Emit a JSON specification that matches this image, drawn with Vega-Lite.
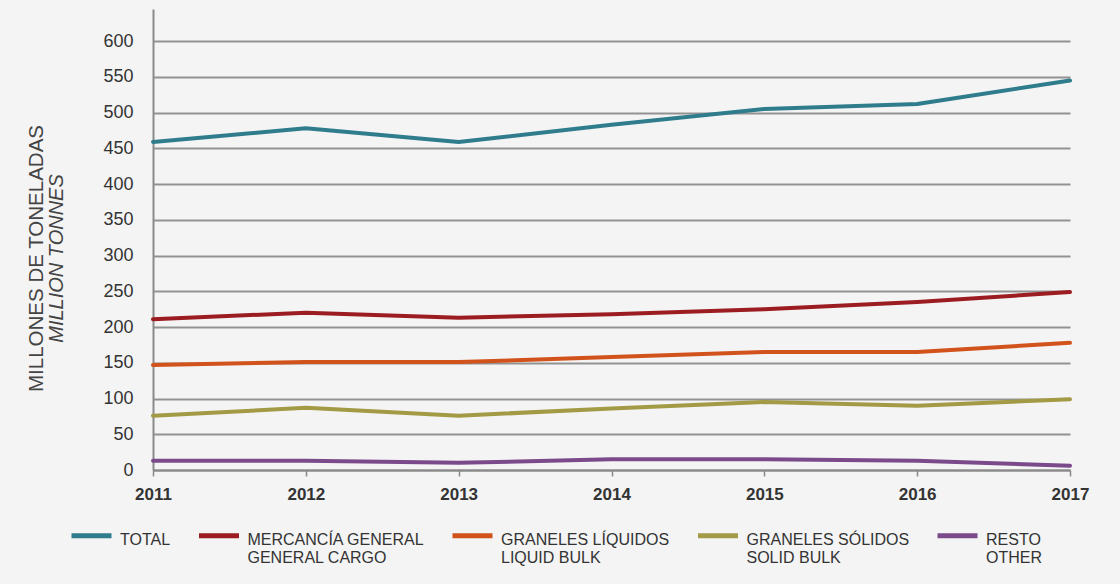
{
  "$schema": "https://vega.github.io/schema/vega-lite/v6.json",
  "width": 917,
  "height": 461,
  "autosize": {"type": "none"},
  "padding": {"left": 153, "top": 9, "right": 50, "bottom": 114},
  "background": "#f4f4f4",
  "config": {"view": {"stroke": null}, "font": "Liberation Sans"},
  "title": {
    "text": "MILLONES DE TONELADAS",
    "subtitle": "MILLION TONNES",
    "orient": "left",
    "anchor": "middle",
    "font": "Liberation Sans",
    "fontSize": 20.5,
    "fontWeight": "normal",
    "color": "#444444",
    "subtitleFont": "Liberation Sans",
    "subtitleFontSize": 20,
    "subtitleFontStyle": "italic",
    "subtitleColor": "#444444",
    "subtitlePadding": 0,
    "offset": 2,
    "dx": -19
  },
  "data": {
    "values": [
      {"year": 2011, "serie": "TOTAL", "value": 459},
      {"year": 2012, "serie": "TOTAL", "value": 478},
      {"year": 2013, "serie": "TOTAL", "value": 459},
      {"year": 2014, "serie": "TOTAL", "value": 483},
      {"year": 2015, "serie": "TOTAL", "value": 505},
      {"year": 2016, "serie": "TOTAL", "value": 512},
      {"year": 2017, "serie": "TOTAL", "value": 545},
      {"year": 2011, "serie": "MERCANCÍA GENERAL", "value": 211},
      {"year": 2012, "serie": "MERCANCÍA GENERAL", "value": 220},
      {"year": 2013, "serie": "MERCANCÍA GENERAL", "value": 213},
      {"year": 2014, "serie": "MERCANCÍA GENERAL", "value": 218},
      {"year": 2015, "serie": "MERCANCÍA GENERAL", "value": 225},
      {"year": 2016, "serie": "MERCANCÍA GENERAL", "value": 235},
      {"year": 2017, "serie": "MERCANCÍA GENERAL", "value": 249},
      {"year": 2011, "serie": "GRANELES LÍQUIDOS", "value": 147},
      {"year": 2012, "serie": "GRANELES LÍQUIDOS", "value": 151},
      {"year": 2013, "serie": "GRANELES LÍQUIDOS", "value": 151},
      {"year": 2014, "serie": "GRANELES LÍQUIDOS", "value": 158},
      {"year": 2015, "serie": "GRANELES LÍQUIDOS", "value": 165},
      {"year": 2016, "serie": "GRANELES LÍQUIDOS", "value": 165},
      {"year": 2017, "serie": "GRANELES LÍQUIDOS", "value": 178},
      {"year": 2011, "serie": "GRANELES SÓLIDOS", "value": 76},
      {"year": 2012, "serie": "GRANELES SÓLIDOS", "value": 87},
      {"year": 2013, "serie": "GRANELES SÓLIDOS", "value": 76},
      {"year": 2014, "serie": "GRANELES SÓLIDOS", "value": 86},
      {"year": 2015, "serie": "GRANELES SÓLIDOS", "value": 95},
      {"year": 2016, "serie": "GRANELES SÓLIDOS", "value": 90},
      {"year": 2017, "serie": "GRANELES SÓLIDOS", "value": 99},
      {"year": 2011, "serie": "RESTO", "value": 13},
      {"year": 2012, "serie": "RESTO", "value": 13},
      {"year": 2013, "serie": "RESTO", "value": 10},
      {"year": 2014, "serie": "RESTO", "value": 15},
      {"year": 2015, "serie": "RESTO", "value": 15},
      {"year": 2016, "serie": "RESTO", "value": 13},
      {"year": 2017, "serie": "RESTO", "value": 6}
    ]
  },
  "mark": {"type": "line", "strokeWidth": 4, "strokeCap": "round", "strokeJoin": "round"},
  "encoding": {
    "x": {
      "field": "year",
      "type": "quantitative",
      "scale": {"domain": [2011, 2017], "nice": false, "zero": false},
      "axis": {
        "values": [2011, 2012, 2013, 2014, 2015, 2016, 2017],
        "format": "d",
        "title": null,
        "grid": false,
        "labelFont": "Liberation Sans",
        "labelFontSize": 17,
        "labelFontWeight": "bold",
        "labelColor": "#333333",
        "labelPadding": 10,
        "labelFlush": false,
        "tickSize": 6,
        "tickColor": "#8a8a8a",
        "tickWidth": 1.5,
        "domainColor": "#8a8a8a",
        "domainWidth": 2
      }
    },
    "y": {
      "field": "value",
      "type": "quantitative",
      "scale": {"domain": [0, 645], "nice": false},
      "axis": {
        "values": [0, 50, 100, 150, 200, 250, 300, 350, 400, 450, 500, 550, 600],
        "title": null,
        "grid": true,
        "gridColor": "#929292",
        "gridWidth": 2,
        "ticks": false,
        "tickSize": 0,
        "labelPadding": 20,
        "labelFont": "Liberation Sans",
        "labelFontSize": 18,
        "labelColor": "#333333",
        "domainColor": "#8a8a8a",
        "domainWidth": 2
      }
    },
    "color": {
      "field": "serie",
      "type": "nominal",
      "scale": {
        "domain": ["TOTAL", "MERCANCÍA GENERAL", "GRANELES LÍQUIDOS", "GRANELES SÓLIDOS", "RESTO"],
        "range": ["#2f7d8c", "#9b1d22", "#d2521c", "#a39a45", "#7a4a8b"]
      },
      "legend": {
        "orient": "none",
        "legendX": -84,
        "legendY": 504,
        "direction": "horizontal",
        "title": null,
        "padding": 0,
        "symbolType": "stroke",
        "symbolStrokeWidth": 5,
        "symbolSize": 1600,
        "labelFont": "Liberation Sans",
        "labelFontSize": 16,
        "labelColor": "#333333",
        "labelOffset": 6,
        "labelLimit": 300,
        "columnPadding": 17.5,
        "encode": {"labels": {"update": {"dy": {"value": 4.2}}}},
        "labelExpr": "[datum.label, datum.label == 'MERCANCÍA GENERAL' ? 'GENERAL CARGO' : datum.label == 'GRANELES LÍQUIDOS' ? 'LIQUID BULK' : datum.label == 'GRANELES SÓLIDOS' ? 'SOLID BULK' : datum.label == 'RESTO' ? 'OTHER' : ' ']"
      }
    }
  }
}
